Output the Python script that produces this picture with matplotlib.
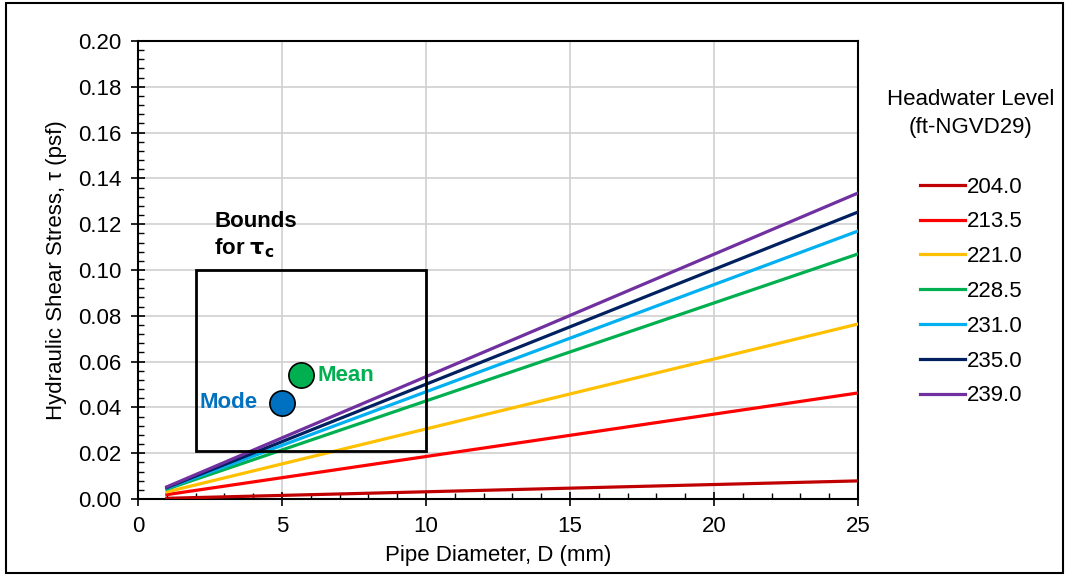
import matplotlib
matplotlib.use('Agg')
import matplotlib.pyplot as plt
from matplotlib.patches import Rectangle
from matplotlib.ticker import MultipleLocator

plt.rcParams['font.family'] = ['Liberation Sans', 'DejaVu Sans']

# pipe diameter (mm) at the ends of each line
diametri = [1, 25]
razine = ['204.0', '213.5', '221.0', '228.5', '231.0', '235.0', '239.0']
naprezanja = [
    [0.0003, 0.0079],
    [0.0019, 0.0463],
    [0.0031, 0.0764],
    [0.0043, 0.1070],
    [0.0047, 0.1170],
    [0.0050, 0.1253],
    [0.0053, 0.1336],
]
boje = ['#C00000', '#FF0000', '#FFC000', '#00B050', '#00B0F0', '#002060', '#7030A0']

# bounds box for tau_c: (D min, D max, tau min, tau max)
granice = [2, 10, 0.021, 0.100]
mode_tocka = [5.0, 0.042]
mean_tocka = [5.65, 0.054]

fs = 16
fig = plt.figure(figsize=(10.65, 5.75), dpi=100)
ax = fig.add_axes([0.1296, 0.1322, 0.676, 0.7965])

for razina, y, c in zip(razine, naprezanja, boje):
    ax.plot(diametri, y, color=c, lw=2.3, label=razina, zorder=3)

ax.add_patch(Rectangle((granice[0], granice[2]), granice[1] - granice[0], granice[3] - granice[2],
                       fill=False, edgecolor='black', lw=2, zorder=4))

ax.scatter([mode_tocka[0]], [mode_tocka[1]], s=330, color='#0070C0', edgecolor='black', lw=1.2, zorder=5)
ax.scatter([mean_tocka[0]], [mean_tocka[1]], s=330, color='#00B050', edgecolor='black', lw=1.2, zorder=5)
ax.text(mode_tocka[0] - 0.85, mode_tocka[1], 'Mode', color='#0070C0', fontsize=fs, fontweight='bold',
        ha='right', va='center', zorder=6)
ax.text(mean_tocka[0] + 0.58, mean_tocka[1], 'Mean', color='#00B050', fontsize=fs, fontweight='bold',
        ha='left', va='center', zorder=6)
ax.text(2.65, 0.1045, 'Bounds\nfor $\\mathbf{\\tau_c}$', fontsize=fs, fontweight='bold',
        ha='left', va='bottom', linespacing=1.25)

ax.set_xlim(0, 25)
ax.set_ylim(0, 0.20)
ax.xaxis.set_major_locator(MultipleLocator(5))
ax.xaxis.set_minor_locator(MultipleLocator(1))
ax.yaxis.set_major_locator(MultipleLocator(0.02))
ax.yaxis.set_minor_locator(MultipleLocator(0.004))
ax.yaxis.set_major_formatter(matplotlib.ticker.FormatStrFormatter('%.2f'))
ax.tick_params(which='major', direction='inout', length=10, width=1.2, labelsize=fs, colors='black')
ax.tick_params(axis='x', which='major', pad=7)
ax.tick_params(axis='y', which='major', pad=7)
ax.tick_params(which='minor', direction='in', length=4, width=1)
ax.grid(True, which='major', color='#D0D0D0', lw=1.2, zorder=0)
ax.set_axisbelow(True)
for s in ax.spines.values():
    s.set_color('black')
    s.set_linewidth(1.5)

ax.set_xlabel('Pipe Diameter, D (mm)', fontsize=fs, labelpad=6)
ax.set_ylabel('Hydraulic Shear Stress, τ (psf)', fontsize=fs, labelpad=8)

leg = ax.legend(title='Headwater Level\n(ft-NGVD29)', loc='upper center', bbox_to_anchor=(1.157, 0.938),
                frameon=False, fontsize=fs, title_fontsize=fs, handlelength=2.05, handletextpad=0.05,
                labelspacing=0.62)
leg._legend_box.sep = 28
leg.get_title().set_multialignment('center')
leg.get_title().set_linespacing(1.4)

fig.add_artist(Rectangle((0.0056, 0.0035), 0.9925, 0.991, transform=fig.transFigure,
                         fill=False, edgecolor='black', lw=1.5))

plt.savefig('out.png', dpi=100)
